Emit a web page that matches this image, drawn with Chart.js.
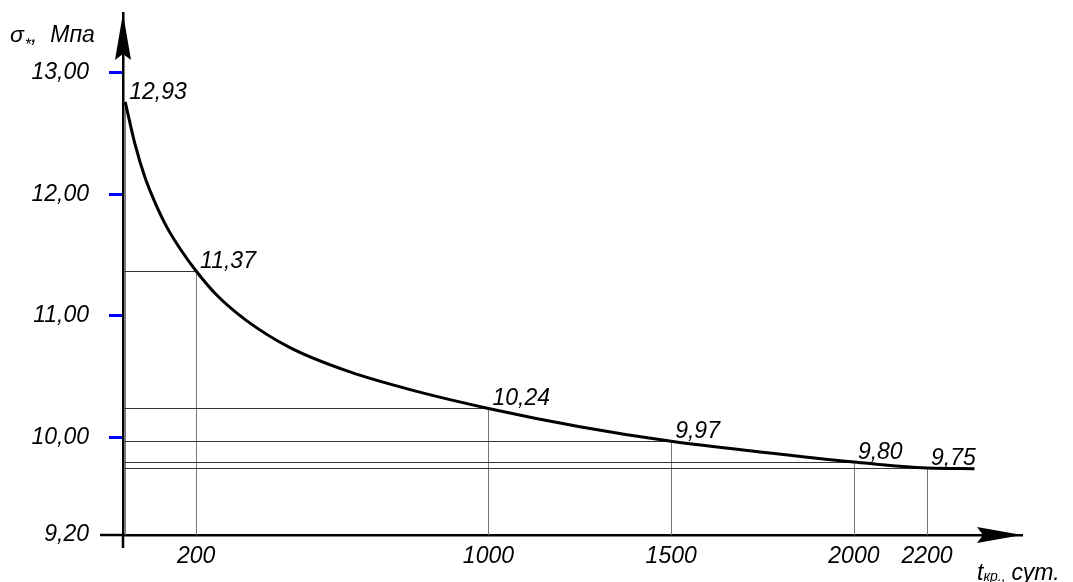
<!DOCTYPE html>
<html>
<head>
<meta charset="utf-8">
<script src="https://cdn.jsdelivr.net/npm/chart.js@4"></script>
<style>
html, body { margin: 0; padding: 0; background: #fff; }
#wrap { width: 1073px; height: 582px; }
</style>
</head>
<body>
<div id="wrap"><canvas id="myChart"></canvas></div>
<script>
// curve
const curveT = [6, 33, 60, 88, 120, 159, 200, 257, 339, 457, 621, 804, 1000, 1250, 1500, 1750, 2000, 2200, 2330]
const curveV = [12.76, 12.41, 12.14, 11.93, 11.73, 11.54, 11.37, 11.17, 10.96, 10.74, 10.54, 10.38, 10.24, 10.09, 9.97, 9.88, 9.80, 9.75, 9.745]

// marked points and their labels
const keyT = [6, 200, 1000, 1500, 2000, 2200]
const keyV = [12.93, 11.37, 10.24, 9.97, 9.80, 9.75]

const xTicks = [200, 1000, 1500, 2000, 2200]
const yTicks = [9.2, 10, 11, 12, 13]

const FONT = 'Liberation Sans, Arial, sans-serif'
const fmt = v => v.toFixed(2).replace('.', ',')

const drawing = {
    id: 'drawing',
    beforeDatasetsDraw(chart) {
        const ctx = chart.ctx
        const area = chart.chartArea
        const pts = chart.getDatasetMeta(0).data
        ctx.save()
        ctx.lineWidth = 1
        keyT.forEach(t => {
            const p = pts[curveT.indexOf(t)]
            ctx.strokeStyle = '#333'
            ctx.beginPath()
            ctx.moveTo(area.left, Math.round(p.y) + 0.5)
            ctx.lineTo(p.x, Math.round(p.y) + 0.5)
            ctx.stroke()
            ctx.strokeStyle = '#777'
            ctx.beginPath()
            ctx.moveTo(Math.round(p.x) + 0.5, p.y)
            ctx.lineTo(Math.round(p.x) + 0.5, area.bottom)
            ctx.stroke()
        })
        ctx.restore()
    },
    afterDraw(chart) {
        const ctx = chart.ctx
        const area = chart.chartArea
        const pts = chart.getDatasetMeta(0).data
        const x0 = area.left, y0 = area.bottom
        ctx.save()
        ctx.fillStyle = '#000'
        ctx.strokeStyle = '#000'
        ctx.lineWidth = 2.5

        // axis stubs past the origin
        ctx.beginPath()
        ctx.moveTo(x0, y0); ctx.lineTo(x0, y0 + 13)
        ctx.moveTo(x0, y0); ctx.lineTo(x0 - 23, y0)
        ctx.stroke()

        // arrows
        ctx.beginPath()
        ctx.moveTo(x0, area.top)
        ctx.lineTo(x0 - 8, area.top + 47)
        ctx.lineTo(x0, area.top + 41)
        ctx.lineTo(x0 + 8, area.top + 47)
        ctx.closePath()
        ctx.fill()
        ctx.beginPath()
        ctx.moveTo(area.right, y0)
        ctx.lineTo(area.right - 45, y0 - 8)
        ctx.lineTo(area.right - 39, y0)
        ctx.lineTo(area.right - 45, y0 + 8)
        ctx.closePath()
        ctx.fill()

        // point labels
        ctx.font = 'italic 23px ' + FONT
        ctx.textAlign = 'left'
        ctx.textBaseline = 'alphabetic'
        keyT.forEach((t, i) => {
            const p = pts[curveT.indexOf(t)]
            ctx.fillText(fmt(keyV[i]), p.x + 4, p.y - 3)
        })

        // y axis title
        let x = 10
        ctx.fillText('σ', x, 42)
        x += ctx.measureText('σ').width + 1
        ctx.font = 'italic 16px ' + FONT
        ctx.fillText('*', x, 50)
        x += ctx.measureText('*').width
        ctx.font = 'italic 23px ' + FONT
        ctx.fillText(',  Мпа', x, 42)

        // x axis title
        x = 977
        ctx.fillText('t', x, 580)
        x += ctx.measureText('t').width
        ctx.font = 'italic 14px ' + FONT
        ctx.fillText('кр.,', x, 581)
        x += ctx.measureText('кр.,').width + 6
        ctx.font = 'italic 23px ' + FONT
        ctx.fillText('сут.', x, 580)
        ctx.restore()
    }
}

const ctx = document.getElementById('myChart').getContext('2d')
new Chart(ctx, {
    type: 'line',
    data: {
        datasets: [{
            data: curveT.map((t, i) => ({ x: t, y: curveV[i] })),
            borderColor: '#000',
            borderWidth: 3,
            pointRadius: 0,
            cubicInterpolationMode: 'monotone',
            fill: false
        }]
    },
    options: {
        responsive: true,
        maintainAspectRatio: false,
        animation: false,
        layout: { padding: { top: 13, right: 51, left: 0, bottom: 0 } },
        plugins: { legend: { display: false }, tooltip: { enabled: false } },
        scales: {
            x: {
                type: 'linear',
                min: 0,
                max: 2460,
                afterBuildTicks: axis => { axis.ticks = xTicks.map(v => ({ value: v })) },
                afterFit: axis => {
                    axis.height = 47
                    axis.paddingLeft = 0
                    axis.paddingRight = 0
                },
                grid: { display: false, drawTicks: false },
                border: { color: '#000', width: 2.5 },
                ticks: {
                    color: '#000',
                    padding: 8,
                    maxRotation: 0,
                    autoSkip: false,
                    font: { family: FONT, size: 23, style: 'italic' },
                    callback: v => String(v)
                }
            },
            y: {
                type: 'linear',
                min: 9.2,
                max: 13.49,
                afterBuildTicks: axis => { axis.ticks = yTicks.map(v => ({ value: v })) },
                afterFit: axis => {
                    axis.width = 123
                    axis.paddingTop = 0
                    axis.paddingBottom = 0
                },
                grid: {
                    drawOnChartArea: false,
                    drawTicks: true,
                    tickLength: 14,
                    tickWidth: 3,
                    tickColor: c => c.tick && c.tick.value === 9.2 ? 'rgba(0,0,0,0)' : '#0000ff'
                },
                border: { color: '#000', width: 2.5 },
                ticks: {
                    color: '#000',
                    padding: 20,
                    font: { family: FONT, size: 23, style: 'italic' },
                    callback: v => fmt(v)
                }
            }
        }
    },
    plugins: [drawing]
})
</script>
</body>
</html>
